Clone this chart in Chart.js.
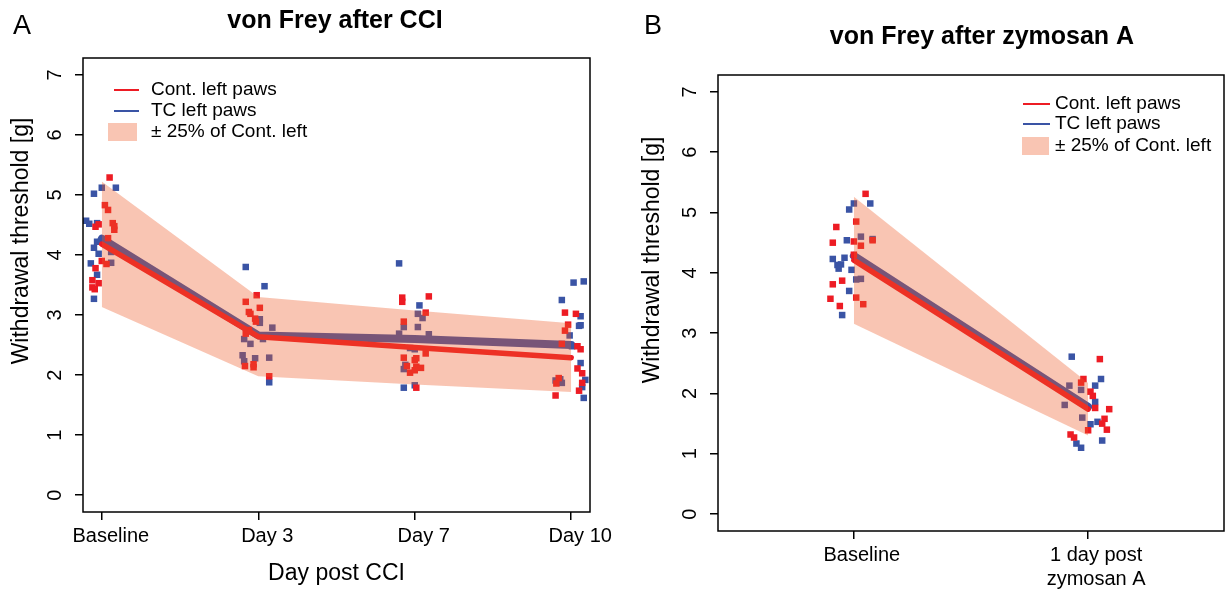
<!DOCTYPE html>
<html>
<head>
<meta charset="utf-8">
<title>von Frey</title>
<script src="https://cdn.jsdelivr.net/npm/chart.js@4.4.0/dist/chart.umd.min.js"></script>
<style>
  body { margin: 0; background: #fff; }
  #wrap { position: relative; width: 1230px; height: 591px; }
  .pane { position: absolute; top: 0; width: 615px; height: 591px; }
</style>
</head>
<body>
<div id="wrap">
  <div class="pane" style="left:0"><canvas id="cciChart" width="615" height="591"></canvas></div>
  <div class="pane" style="left:615px"><canvas id="zymChart" width="615" height="591"></canvas></div>
</div>
<script>
// ---- data ----
const yTicks = [0, 1, 2, 3, 4, 5, 6, 7];
const bandFrac = 0.25; // +/- 25% of Cont. left

const cciDays = ['Baseline', 'Day 3', 'Day 7', 'Day 10'];
const cciContMean = [4.18, 2.64, 2.46, 2.29];
const cciTcMean = [4.27, 2.66, 2.60, 2.50];
// [jittered x position, threshold]
const cciContPts = [
  [1.05,5.29],[1.02,4.83],[1.04,4.75],[1.07,4.53],[1.08,4.48],[1.08,4.42],[0.98,4.51],[0.96,4.47],
  [1.04,4.28],[1.00,3.90],[1.03,3.85],[0.96,3.78],[0.94,3.58],[0.98,3.53],[0.94,3.46],[0.955,3.43],
  [1.99,3.33],[1.92,3.22],[2.01,3.12],[1.94,3.05],[1.95,3.02],[1.98,2.94],[1.985,2.89],[1.94,2.75],
  [1.92,2.69],[1.915,2.15],[1.97,2.18],[1.97,2.13],[2.07,1.98],
  [2.92,3.29],[2.92,3.22],[3.09,3.31],[3.07,3.04],[2.93,2.89],[3.07,2.36],[2.93,2.29],[3.00,2.25],
  [3.01,2.28],[3.01,2.14],[3.04,2.12],[2.95,2.15],[2.97,2.04],[3.00,2.08],[3.01,1.79],
  [3.96,3.04],[4.03,3.02],[3.98,2.84],[3.96,2.74],[3.94,2.52],[4.04,2.48],[4.06,2.43],[4.04,2.11],
  [4.07,2.03],[4.07,1.87],[4.05,1.74],[3.92,1.95],[3.90,1.66],[3.905,1.86]
];
const cciTcPts = [
  [1.00,5.12],[1.09,5.12],[0.95,5.02],[0.90,4.57],[0.92,4.52],[0.97,4.53],[0.97,4.22],[0.95,4.12],
  [0.98,4.02],[0.93,3.86],[0.97,3.67],[0.95,3.27],[1.06,4.05],[1.06,3.87],
  [1.92,3.80],[2.04,3.48],[2.01,2.93],[2.01,2.87],[2.09,2.79],[1.91,2.60],[1.95,2.52],[2.03,2.60],
  [1.90,2.33],[1.91,2.23],[1.98,2.28],[2.07,2.29],[2.07,1.88],
  [2.90,3.86],[3.03,3.16],[2.93,1.79],[3.00,1.83],[3.02,3.02],[3.05,2.95],[2.93,2.80],[3.02,2.80],
  [2.90,2.69],[3.09,2.68],[2.97,2.45],[3.00,2.43],[2.94,2.17],[2.93,2.10],
  [4.015,3.54],[4.08,3.56],[3.94,3.25],[4.06,2.98],[4.05,2.82],[4.06,2.83],[4.005,2.48],[4.06,2.20],
  [4.09,1.92],[4.07,1.80],[4.08,1.62],[3.99,2.66],[3.90,1.91],[3.94,1.87],[3.93,1.93]
];

const zymDays = ['Baseline', ['1 day post', 'zymosan A']];
const zymContMean = [4.21, 1.74];
const zymTcMean = [4.28, 1.78];
const zymContPts = [
  [1.05,5.31],[1.01,4.85],[0.925,4.76],[0.91,4.50],[1.00,4.52],[1.03,4.45],[1.08,4.54],[1.00,4.30],
  [0.95,3.87],[0.91,3.81],[0.90,3.57],[1.01,3.59],[0.94,3.45],[1.04,3.48],
  [2.05,2.57],[1.98,2.24],[1.97,2.18],[2.01,2.03],[2.02,1.96],[2.03,1.76],[2.09,1.74],[2.07,1.58],
  [2.06,1.50],[2.08,1.40],[2.00,1.39],[1.925,1.32],[1.94,1.27]
];
const zymTcPts = [
  [1.07,5.15],[0.98,5.05],[0.97,4.54],[0.91,4.23],[0.96,4.25],[0.93,4.13],[0.945,4.14],[0.935,4.07],
  [0.99,4.05],[0.98,3.70],[0.95,3.30],[1.00,5.15],[1.03,4.60],[1.08,4.56],[1.01,3.89],[1.03,3.90],
  [1.93,2.61],[2.055,2.24],[2.03,2.13],[2.03,1.86],[2.01,1.49],[2.04,1.53],[1.95,1.17],[1.97,1.10],
  [2.06,1.22],[1.92,2.13],[1.97,2.06],[1.90,1.81],[1.975,1.60]
];

const legendLabels = ['Cont. left paws', 'TC left paws', '\u00b1 25% of Cont. left'];

const RED = '#ED1C24';
const BLUE = '#3A54A5';
const BAND = 'rgba(238,89,38,0.35)';
const BAND_KEY = '#F9C5B3';
const FONT = '"Liberation Sans", Arial, Helvetica, sans-serif';

function buildPanel(id, o) {
  const pts = arr => arr.map(p => ({ x: p[0], y: p[1] }));
  const mean = arr => arr.map((v, i) => ({ x: i + 1, y: v }));
  const band = f => o.contMean.map((v, i) => ({ x: i + 1, y: v * (1 + f) }));

  // R-style box, rotated y labels, titles and legend
  const decor = {
    id: 'decor',
    afterDraw(chart) {
      const ctx = chart.ctx, ca = chart.chartArea, ys = chart.scales.y;
      ctx.save();
      ctx.strokeStyle = '#000';
      ctx.lineWidth = 1.5;
      ctx.strokeRect(ca.left, ca.top, ca.right - ca.left, ca.bottom - ca.top);

      ctx.fillStyle = '#000';
      ctx.textAlign = 'center';
      ctx.textBaseline = 'middle';
      ctx.font = '20px ' + FONT;
      yTicks.forEach(v => {
        ctx.save();
        ctx.translate(ca.left - 28, ys.getPixelForValue(v));
        ctx.rotate(-Math.PI / 2);
        ctx.fillText(String(v), 0, 0);
        ctx.restore();
      });

      // y axis title
      ctx.save();
      ctx.font = '23px ' + FONT;
      ctx.translate(o.yTitle[0], o.yTitle[1]);
      ctx.rotate(-Math.PI / 2);
      ctx.fillText('Withdrawal threshold [g]', 0, 0);
      ctx.restore();

      // main title
      ctx.font = 'bold 25px ' + FONT;
      ctx.fillText(o.title, o.titlePos[0], o.titlePos[1]);

      // panel letter
      ctx.textAlign = 'left';
      ctx.textBaseline = 'alphabetic';
      ctx.font = '27px ' + FONT;
      ctx.fillText(o.letter, o.letterPos[0], o.letterPos[1]);

      // legend
      const lg = o.legend;
      ctx.lineWidth = 2;
      ctx.strokeStyle = RED;
      ctx.beginPath(); ctx.moveTo(lg.lineX[0], lg.rows[0]); ctx.lineTo(lg.lineX[1], lg.rows[0]); ctx.stroke();
      ctx.strokeStyle = BLUE;
      ctx.beginPath(); ctx.moveTo(lg.lineX[0], lg.rows[1]); ctx.lineTo(lg.lineX[1], lg.rows[1]); ctx.stroke();
      ctx.fillStyle = BAND_KEY;
      ctx.fillRect(lg.boxX[0], lg.rows[2] - 9, lg.boxX[1] - lg.boxX[0], 18);
      ctx.fillStyle = '#000';
      ctx.textBaseline = 'middle';
      ctx.font = '19px ' + FONT;
      legendLabels.forEach((t, i) => ctx.fillText(t, lg.textX, lg.rows[i]));
      ctx.restore();
    }
  };

  return new Chart(document.getElementById(id), {
    type: 'line',
    data: {
      datasets: [
        { data: pts(o.tcPts), showLine: false, pointStyle: 'rect', pointRadius: 4.6,
          pointBackgroundColor: BLUE, pointBorderWidth: 0, order: 6 },
        { data: mean(o.tcMean), borderColor: BLUE, borderWidth: 8, pointRadius: 0,
          borderCapStyle: 'round', borderJoinStyle: 'round', fill: false, order: 5 },
        { data: pts(o.contPts), showLine: false, pointStyle: 'rect', pointRadius: 4.6,
          pointBackgroundColor: RED, pointBorderWidth: 0, order: 4 },
        { data: mean(o.contMean), borderColor: RED, borderWidth: 5.5, pointRadius: 0,
          borderCapStyle: 'round', borderJoinStyle: 'round', fill: false, order: 3 },
        { data: band(bandFrac), borderColor: 'rgba(0,0,0,0)', borderWidth: 0, pointRadius: 0,
          fill: '+1', backgroundColor: BAND, order: 2 },
        { data: band(-bandFrac), borderColor: 'rgba(0,0,0,0)', borderWidth: 0, pointRadius: 0,
          fill: false, order: 2 }
      ]
    },
    options: {
      responsive: false,
      animation: false,
      devicePixelRatio: 1,
      events: [],
      layout: { padding: { left: 0, top: o.area.top, right: 615 - o.area.right, bottom: 0 } },
      plugins: { legend: { display: false }, tooltip: { enabled: false } },
      scales: {
        x: {
          type: 'linear',
          min: o.xMin, max: o.xMax,
          afterBuildTicks: s => { s.ticks = o.days.map((d, i) => ({ value: i + 1 })); },
          afterFit: s => {
            s.height = 591 - o.area.bottom;
            s.paddingLeft = 0; s.paddingRight = 0; s.paddingTop = 0; s.paddingBottom = 0;
          },
          grid: { drawOnChartArea: false, drawTicks: true, tickLength: 8, color: '#000', lineWidth: 1.5 },
          border: { display: false },
          ticks: {
            autoSkip: false, maxRotation: 0, minRotation: 0, padding: 4, labelOffset: o.labelOffset,
            color: '#000', font: { family: FONT, size: 20 },
            callback: v => o.days[Math.round(v) - 1]
          },
          title: {
            display: !!o.xTitle, text: o.xTitle || '', color: '#000',
            font: { family: FONT, size: 23 }, padding: { top: 4, bottom: 4 }
          }
        },
        y: {
          type: 'linear',
          min: -0.28, max: 7.28,
          afterBuildTicks: s => { s.ticks = yTicks.map(v => ({ value: v })); },
          afterFit: s => {
            s.width = o.area.left;
            s.paddingLeft = 0; s.paddingRight = 0; s.paddingTop = 0; s.paddingBottom = 0;
          },
          grid: { drawOnChartArea: false, drawTicks: true, tickLength: 8, color: '#000', lineWidth: 1.5 },
          border: { display: false },
          ticks: { display: false }
        }
      }
    },
    plugins: [decor]
  });
}

buildPanel('cciChart', {
  days: cciDays, contMean: cciContMean, tcMean: cciTcMean,
  contPts: cciContPts, tcPts: cciTcPts,
  xMin: 0.88, xMax: 4.12,
  area: { left: 83, top: 58, right: 590, bottom: 512 },
  labelOffset: 9,
  xTitle: 'Day post CCI',
  title: 'von Frey after CCI', titlePos: [335, 21],
  letter: 'A', letterPos: [13, 34],
  yTitle: [22, 241],
  legend: { lineX: [114, 139], boxX: [108, 137], textX: 151, rows: [90, 111, 132] }
});

buildPanel('zymChart', {
  days: zymDays, contMean: zymContMean, tcMean: zymTcMean,
  contPts: zymContPts, tcPts: zymTcPts,
  xMin: 0.42, xMax: 2.58,
  area: { left: 103, top: 75, right: 609, bottom: 531 },
  labelOffset: 8,
  xTitle: null,
  title: 'von Frey after zymosan A', titlePos: [367, 37],
  letter: 'B', letterPos: [29, 34],
  yTitle: [38, 260],
  legend: { lineX: [408, 435], boxX: [407, 434], textX: 440, rows: [104, 124, 146] }
});
</script>
</body>
</html>
